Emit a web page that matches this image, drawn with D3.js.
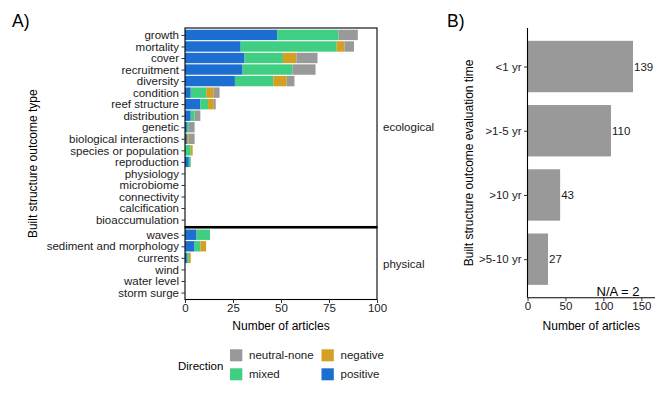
<!DOCTYPE html>
<html>
<head>
<meta charset="utf-8">
<script src="https://cdn.jsdelivr.net/npm/d3@7"></script>
<style>
  body { margin: 0; background: #fff; }
  svg { display: block; font-family: "Liberation Sans", Arial, sans-serif; }
</style>
</head>
<body>
<svg id="chart" width="669" height="401"></svg>
<script>
// ---------- DATA ----------
const ecoCategories = ["growth","mortality","cover","recruitment","diversity","condition","reef structure","distribution","genetic","biological interactions","species or population","reproduction","physiology","microbiome","connectivity","calcification","bioaccumulation"];
const physCategories = ["waves","sediment and morphology","currents","wind","water level","storm surge"];
const directions = ["positive","mixed","negative","neutral-none"];
// values per category, ecological then physical
const positiveVals = [48,29,31,30,26,3,8,3,1,1,0,2,0,0,0,0,0, 6,5,1,0,0,0];
const mixedVals    = [32,50,20,26,20,8,4,2,1,0,3,1,0,0,0,0,0, 7,3,1,0,0,0];
const negativeVals = [0,4,7,0,7,4,3,0,0,1,1,0,0,0,0,0,0, 0,3,1,0,0,0];
const neutralVals  = [10,5,11,12,4,3,1,3,3,3,0,0,0,0,0,0,0, 0,0,0,0,0,0];
const xTicksA = [0,25,50,75,100];

const timeCategories = ["<1 yr",">1-5 yr",">10 yr",">5-10 yr"];
const timeVals = [139,110,43,27];
const xTicksB = [0,50,100,150];
const naLabel = "N/A = 2";

const colors = {"positive":"#1c6fd1","mixed":"#3fce82","negative":"#d4a021","neutral-none":"#999999"};

// ---------- SETUP ----------
const svg = d3.select("#chart");
const textCol = "#1a1a1a";
const tickFont = 11.5;

// Panel A
const ax0 = 185, ax1 = 377;
const ecoTop = 28, ecoBot = 226.5, physTop = 227.8, physBot = 299.5;
const xA = d3.scaleLinear().domain([0,100]).range([ax0, ax1]);
const yEco = d3.scalePoint().domain(ecoCategories).range([ecoTop, ecoBot]).padding(0.6);
const yPhys = d3.scalePoint().domain(physCategories).range([physTop, physBot]).padding(0.6);
const barH = yEco.step() * 0.9;

const allCats = ecoCategories.concat(physCategories);
const rows = allCats.map((c, i) => ({
  cat: c,
  facet: i < ecoCategories.length ? "eco" : "phys",
  "positive": positiveVals[i], "mixed": mixedVals[i], "negative": negativeVals[i], "neutral-none": neutralVals[i]
}));
const stack = d3.stack().keys(directions)(rows);

const gA = svg.append("g");
stack.forEach(layer => {
  gA.selectAll(null).data(layer.filter(d => d[1] > d[0])).enter().append("rect")
    .attr("x", d => xA(d[0]))
    .attr("width", d => xA(d[1]) - xA(d[0]))
    .attr("y", d => (d.data.facet === "eco" ? yEco(d.data.cat) : yPhys(d.data.cat)) - barH/2)
    .attr("height", barH)
    .attr("fill", colors[layer.key]);
});

// panel borders
gA.append("rect").attr("x", ax0).attr("y", ecoTop).attr("width", ax1-ax0).attr("height", ecoBot-ecoTop)
  .attr("fill","none").attr("stroke","#000").attr("stroke-width",1.1);
gA.append("rect").attr("x", ax0).attr("y", physTop).attr("width", ax1-ax0).attr("height", physBot-physTop)
  .attr("fill","none").attr("stroke","#000").attr("stroke-width",1.1);
gA.append("rect").attr("x", ax0-0.5).attr("y", ecoBot-0.5).attr("width", ax1-ax0+1).attr("height", physTop-ecoBot+1).attr("fill","#000");

// y axes A
function styleAxis(g){
  g.select(".domain").remove();
  g.selectAll(".tick line").attr("stroke","#333");
  g.selectAll(".tick text").attr("fill", textCol).attr("font-size", tickFont).attr("font-family","Liberation Sans, Arial, sans-serif");
}
const yAxE = gA.append("g").attr("transform", `translate(${ax0},0)`)
  .call(d3.axisLeft(yEco).tickSize(3.5).tickPadding(2.5));
styleAxis(yAxE);
const yAxP = gA.append("g").attr("transform", `translate(${ax0},0)`)
  .call(d3.axisLeft(yPhys).tickSize(3.5).tickPadding(2.5));
styleAxis(yAxP);
const xAxA = gA.append("g").attr("transform", `translate(0,${physBot})`)
  .call(d3.axisBottom(xA).tickValues(xTicksA).tickSize(3.5).tickPadding(0.5));
styleAxis(xAxA);

// strip labels
gA.append("text").attr("x", 383).attr("y", (ecoTop+ecoBot)/2).attr("dy","0.35em")
  .attr("font-size", tickFont).attr("fill", textCol).text("ecological");
gA.append("text").attr("x", 383).attr("y", (physTop+physBot)/2).attr("dy","0.35em")
  .attr("font-size", tickFont).attr("fill", textCol).text("physical");

// titles A
gA.append("text").attr("x", (ax0+ax1)/2).attr("y", 330).attr("text-anchor","middle")
  .attr("font-size", 12).attr("fill","#000").text("Number of articles");
gA.append("text").attr("transform", `translate(37,${(ecoTop+physBot)/2}) rotate(-90)`)
  .attr("text-anchor","middle").attr("font-size", 12).attr("fill","#000").text("Built structure outcome type");
svg.append("text").attr("x", 12).attr("y", 27).attr("font-size", 17.5).attr("fill","#000").text("A)");

// legend
const lg = svg.append("g");
lg.append("text").attr("x", 178).attr("y", 370).attr("font-size", tickFont).attr("fill","#000").text("Direction");
const legendItems = [
  {key:"neutral-none", col:0, row:0},
  {key:"mixed", col:0, row:1},
  {key:"negative", col:1, row:0},
  {key:"positive", col:1, row:1}
];
legendItems.forEach(it => {
  const kx = it.col === 0 ? 230 : 321.5;
  const ky = it.row === 0 ? 349.3 : 368.3;
  lg.append("rect").attr("x", kx).attr("y", ky).attr("width", 12.3).attr("height", 12)
    .attr("fill", colors[it.key]);
  lg.append("text").attr("x", kx + 19).attr("y", ky + 6).attr("dy","0.35em")
    .attr("font-size", tickFont).attr("fill", textCol).text(it.key);
});

// ---------- Panel B ----------
const bx0 = 527.5, bx1 = 655, bTop = 28, bBot = 297.7;
const xB = d3.scaleLinear().domain([0, 168]).range([bx0, bx1]);
const yB = d3.scaleBand().domain(timeCategories).range([bTop, bBot]);
// ggplot-like: 0.6 unit expansion, bar width 0.8
const stepB = (bBot - bTop) / (timeCategories.length - 1 + 1.2);
const yBc = d3.scalePoint().domain(timeCategories).range([bTop, bBot]).padding(0.6);
const bh = stepB * 0.8;
const gB = svg.append("g");
gB.selectAll(null).data(timeCategories).enter().append("rect")
  .attr("x", bx0)
  .attr("y", d => yBc(d) - bh/2)
  .attr("width", (d,i) => xB(timeVals[i]) - bx0)
  .attr("height", bh)
  .attr("fill", "#999999");
gB.selectAll(null).data(timeCategories).enter().append("text")
  .attr("x", (d,i) => xB(timeVals[i]) + 1)
  .attr("y", d => yBc(d)).attr("dy","0.35em")
  .attr("font-size", tickFont).attr("fill", textCol)
  .text((d,i) => timeVals[i]);

gB.append("line").attr("x1", bx0).attr("x2", bx0).attr("y1", bTop).attr("y2", bBot).attr("stroke","#000").attr("stroke-width",1.1);
gB.append("line").attr("x1", bx0).attr("x2", bx1).attr("y1", bBot).attr("y2", bBot).attr("stroke","#000").attr("stroke-width",1.1);
const yAxB = gB.append("g").attr("transform", `translate(${bx0},0)`)
  .call(d3.axisLeft(yBc).tickSize(3.5).tickPadding(2.5));
styleAxis(yAxB);
const xAxB = gB.append("g").attr("transform", `translate(0,${bBot})`)
  .call(d3.axisBottom(xB).tickValues(xTicksB).tickSize(3.5).tickPadding(0.5));
styleAxis(xAxB);

gB.append("text").attr("x", (bx0+bx1)/2).attr("y", 330).attr("text-anchor","middle")
  .attr("font-size", 12).attr("fill","#000").text("Number of articles");
gB.append("text").attr("transform", `translate(473,${(bTop+bBot)/2}) rotate(-90)`)
  .attr("text-anchor","middle").attr("font-size", 12).attr("fill","#000").text("Built structure outcome evaluation time");
gB.append("text").attr("x", 639.5).attr("y", 296).attr("text-anchor","end")
  .attr("font-size", 13).attr("fill","#000").text(naLabel);
svg.append("text").attr("x", 447).attr("y", 27).attr("font-size", 17.5).attr("fill","#000").text("B)");
</script>
</body>
</html>
